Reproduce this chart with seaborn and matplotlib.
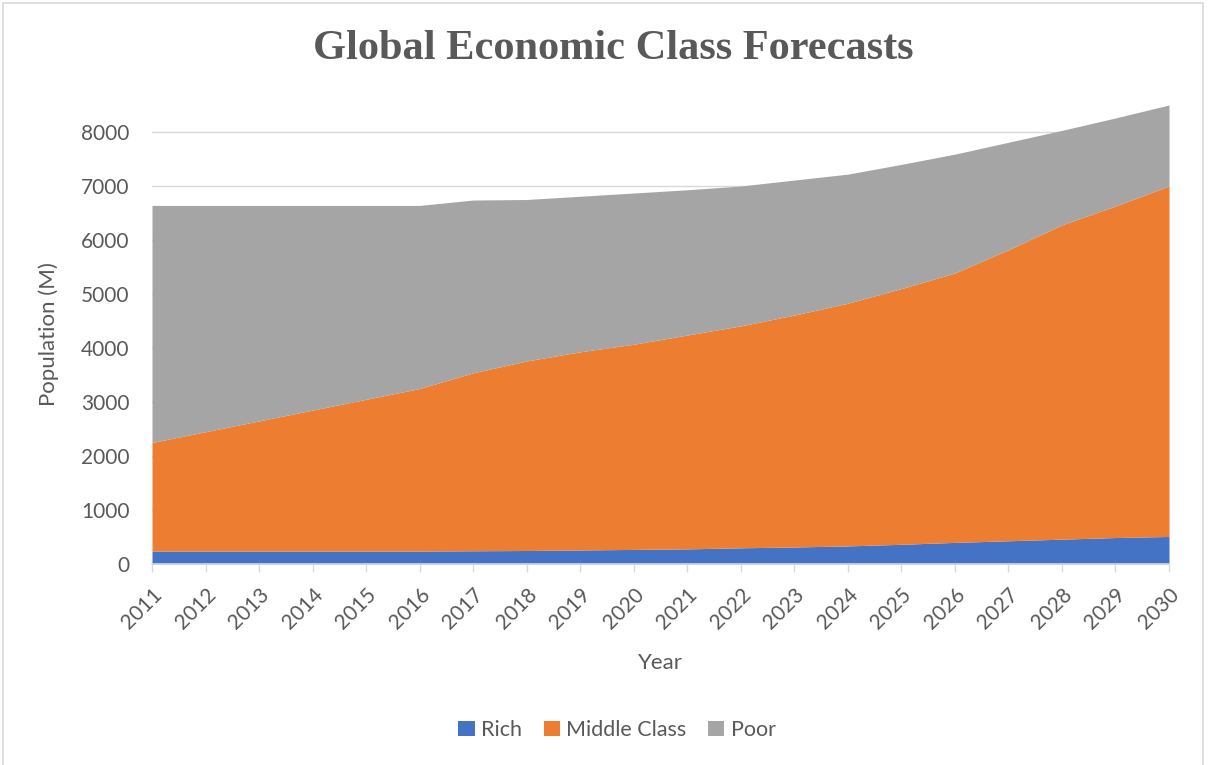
import matplotlib
matplotlib.use("Agg")
import matplotlib.pyplot as plt
import seaborn as sns
import pandas as pd
from matplotlib.patches import Rectangle, Patch

years = list(range(2011, 2031))
rich = [240, 240, 240, 240, 240, 240, 245, 250, 260, 270, 280, 300, 315, 335, 365, 400, 430, 460, 490, 510]
middle = [2010, 2210, 2410, 2610, 2810, 3010, 3295, 3510, 3670, 3800, 3960, 4110, 4295, 4495, 4735, 4990, 5390, 5820, 6140, 6490]
poor = [4390, 4190, 3990, 3790, 3590, 3390, 3200, 2990, 2880, 2800, 2690, 2590, 2500, 2390, 2300, 2200, 1990, 1750, 1630, 1500]
series_names = ["Rich", "Middle Class", "Poor"]
colors = ["#4472C4", "#ED7D31", "#A5A5A5"]
y_ticks = [0, 1000, 2000, 3000, 4000, 5000, 6000, 7000, 8000]

df = pd.DataFrame({"Year": years, "Rich": rich, "Middle Class": middle, "Poor": poor})

sns.set_theme(style="white")
plt.rcParams["font.family"] = ["Lato", "DejaVu Sans"]

fig = plt.figure(figsize=(12.12, 7.65), dpi=100)
ax = fig.add_axes([152/1212, 1-564/765, (1169-152)/1212, (564-105)/765])

ax.stackplot(df["Year"], df["Rich"], df["Middle Class"], df["Poor"],
             colors=colors, labels=series_names, linewidth=0)

ax.set_xlim(2011, 2030)
ax.set_ylim(0, 8500)
ax.set_yticks(y_ticks)
ax.set_xticks(years)
ax.set_xticklabels([str(y) for y in years], rotation=45, ha="right", rotation_mode="anchor")
ax.yaxis.grid(True, color="#d9d9d9", linewidth=1)
ax.set_axisbelow(True)
sns.despine(ax=ax, left=True, top=True, right=True, bottom=False)
ax.spines["bottom"].set_color("#d9d9d9")
ax.spines["bottom"].set_linewidth(1.2)
ax.spines["bottom"].set_zorder(5)
ax.tick_params(axis="x", which="major", bottom=True, length=6, width=1, color="#d9d9d9",
               labelsize=15, labelcolor="#595959", pad=9)
ax.tick_params(axis="y", left=False, labelsize=15, labelcolor="#595959", pad=10)

ax.set_xlabel("Year", fontsize=16, color="#595959", labelpad=14)
ax.set_ylabel("Population (M)", fontsize=16, color="#595959", labelpad=16)

fig.text(613/1212, 1-49/765, "Global Economic Class Forecasts", ha="center", va="center",
         fontsize=30.5, fontweight="bold", color="#595959", family=["Liberation Serif", "DejaVu Serif"])

handles = [Patch(facecolor=c, edgecolor="none") for c in colors]
fig.legend(handles, series_names, loc="center", bbox_to_anchor=(617/1212, 1-730/765),
           ncol=3, frameon=False, fontsize=15.5, labelcolor="#595959",
           handlelength=0.75, handleheight=0.75, handletextpad=0.3, columnspacing=1.0)

fig.patches.append(Rectangle((3/1212, -0.01), (1203-3)/1212, 1-3/765+0.01, transform=fig.transFigure,
                             fill=False, edgecolor="#d9d9d9", linewidth=1.2))

fig.savefig("out.png", dpi=100)
